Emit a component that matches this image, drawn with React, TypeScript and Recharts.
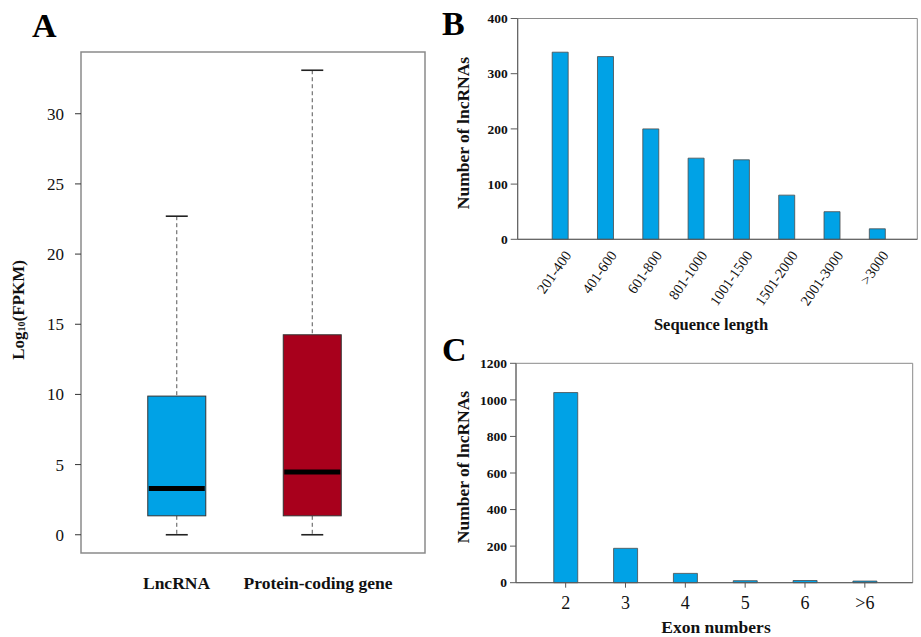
import React from "react";
import { ComposedChart, BarChart, Bar, XAxis, YAxis, ReferenceArea } from "recharts";

const SERIF = '"Liberation Serif", "Times New Roman", serif';
const BLUE = "#00a2e6";
const RED = "#a8001c";
const FRAME = "#8a8a8a";
const AXIS = "#5a5a5a";

// Panel A: log10(FPKM) box plots
const boxGroups = ["LncRNA", "Protein-coding gene"];
const boxMin = [0, 0];
const boxQ1 = [1.35, 1.35];
const boxMedian = [3.3, 4.47];
const boxQ3 = [9.88, 14.25];
const boxMax = [22.7, 33.1];
const boxColors = [BLUE, RED];
const fpkmTicks = [0, 5, 10, 15, 20, 25, 30];

// Panel B: sequence length distribution
const lengthBins = ["201-400", "401-600", "601-800", "801-1000", "1001-1500", "1501-2000", "2001-3000", ">3000"];
const lengthCounts = [339, 331, 200, 147, 144, 80, 50, 19];
const lengthTicks = [0, 100, 200, 300, 400];

// Panel C: exon number distribution
const exonBins = ["2", "3", "4", "5", "6", ">6"];
const exonCounts = [1040, 188, 51, 11, 12, 9];
const exonTicks = [0, 200, 400, 600, 800, 1000, 1200];

const boxData = boxGroups.map((g, i) => ({
  pos: i + 1, min: boxMin[i], q1: boxQ1[i], median: boxMedian[i], q3: boxQ3[i], max: boxMax[i], color: boxColors[i],
}));
const lengthData = lengthBins.map((_, i) => ({ pos: i, count: lengthCounts[i] }));
const exonData = exonBins.map((_, i) => ({ pos: i, count: exonCounts[i] }));

const A_X: [number, number] = [0.295, 2.834];
const A_Y: [number, number] = [-1.3, 34.4];
const B_X: [number, number] = [-0.93, 7.89];
const C_X: [number, number] = [-0.83, 5.8];

function BoxShape(props: any) {
  const { x, y, width, height, payload } = props;
  const top = Math.min(y, y + height);
  const h = Math.abs(height);
  const span = payload.max - payload.min;
  const py = (v: number) => top + ((payload.max - v) / span) * h;
  const cx = x + width / 2;
  const cap = 11;
  return (
    <g>
      <line x1={cx} x2={cx} y1={py(payload.max)} y2={py(payload.q3)} stroke="#555" strokeDasharray="4 3" />
      <line x1={cx} x2={cx} y1={py(payload.q1)} y2={py(payload.min)} stroke="#555" strokeDasharray="4 3" />
      <line x1={cx - cap} x2={cx + cap} y1={py(payload.max)} y2={py(payload.max)} stroke="#222" strokeWidth={1.6} />
      <line x1={cx - cap} x2={cx + cap} y1={py(payload.min)} y2={py(payload.min)} stroke="#222" strokeWidth={1.6} />
      <rect x={x} y={py(payload.q3)} width={width} height={py(payload.q1) - py(payload.q3)}
        fill={payload.color} stroke="#333" strokeWidth={1} />
      <line x1={x + 1} x2={x + width - 1} y1={py(payload.median)} y2={py(payload.median)} stroke="#000" strokeWidth={5} />
    </g>
  );
}

const makeTick = (size: number, weight: string, labels?: string[], shift?: number[]) => (props: any) => {
  const { x, y, payload, textAnchor, verticalAnchor } = props;
  const dy = verticalAnchor === "start" ? "0.71em" : verticalAnchor === "end" ? "-0.2em" : "0.35em";
  const text = labels ? labels[payload.value] ?? "" : payload.value;
  const dx = shift ? shift[payload.value] ?? 0 : 0;
  return (
    <text x={x + dx} y={y} textAnchor={textAnchor} dy={dy} fontFamily={SERIF} fontSize={size} fontWeight={weight} fill="#111">
      {text}
    </text>
  );
};

function SlantTick({ x, y, payload }: any) {
  const ax = x + 8;
  return (
    <text x={ax} y={y} transform={`rotate(-55, ${ax}, ${y})`} textAnchor="end" dy="0.35em"
      fontFamily={SERIF} fontSize={14.5} fill="#111">
      {lengthBins[payload.value]}
    </text>
  );
}

function Log10Label() {
  return (
    <text x={18} y={310} transform="rotate(-90, 18, 310)" textAnchor="middle" dominantBaseline="central"
      fontFamily={SERIF} fontWeight="bold" fontSize={17} fill="#111">
      Log<tspan fontSize={10} dy={3}>10</tspan><tspan dy={-3}>(FPKM)</tspan>
    </text>
  );
}

function CountLabel({ cy }: { cy: number }) {
  return (
    <text x={23} y={cy} transform={`rotate(-90, 23, ${cy})`} textAnchor="middle" dominantBaseline="central"
      fontFamily={SERIF} fontWeight="bold" fontSize={17.5} fill="#111">
      Number of lncRNAs
    </text>
  );
}

const letter = (ch: string, left: number, top: number) => (
  <div style={{ position: "absolute", left, top, fontWeight: "bold", fontSize: 34, lineHeight: "34px", color: "#000" }}>
    {ch}
  </div>
);

const xTitle = (text: string, cx: number, cy: number, size: number) => (
  <div style={{ position: "absolute", left: cx - 100, top: cy - size / 2, width: 200, textAlign: "center",
    fontWeight: "bold", fontSize: size, lineHeight: `${size}px`, color: "#111" }}>
    {text}
  </div>
);

export default function App() {
  return (
    <div style={{ position: "absolute", left: 0, top: 0, width: 921, height: 637, background: "#fff",
      overflow: "hidden", fontFamily: SERIF }}>
      {letter("A", 32, 9)}
      {letter("B", 442, 7)}
      {letter("C", 442, 333)}
      {xTitle("Sequence length", 711, 325, 16.5)}
      {xTitle("Exon numbers", 716, 628, 17.5)}

      <div style={{ position: "absolute", left: 0, top: 0 }}>
        <ComposedChart width={430} height={637} data={boxData} margin={{ top: 52, right: 5, bottom: 44, left: 21 }}>
          <XAxis dataKey="pos" type="number" domain={A_X} ticks={[1, 2]} height={40} allowDataOverflow
            axisLine={false} tickLine={false} tickSize={0} tickMargin={24}
            tick={makeTick(17.5, "bold", ["", ...boxGroups], [0, 0, 6])} />
          <YAxis type="number" domain={A_Y} ticks={fpkmTicks} width={60} allowDataOverflow
            axisLine={false} tickLine={{ stroke: "#333" }} tickSize={6} tickMargin={11}
            tick={makeTick(17, "normal")} label={<Log10Label />} />
          <ReferenceArea x1={A_X[0]} x2={A_X[1]} y1={A_Y[0]} y2={A_Y[1]} fill="none" fillOpacity={0}
            stroke={FRAME} strokeWidth={1.5} ifOverflow="visible" />
          <Bar dataKey={(d: any) => [d.min, d.max]} barSize={58} shape={<BoxShape />} isAnimationActive={false} />
        </ComposedChart>
      </div>

      <div style={{ position: "absolute", left: 440, top: 0 }}>
        <BarChart width={481} height={335} data={lengthData} margin={{ top: 18.5, right: 3.7, bottom: 25.7, left: 27.7 }}>
          <XAxis dataKey="pos" type="number" domain={B_X} ticks={[0, 1, 2, 3, 4, 5, 6, 7]} allowDataOverflow
            height={70} interval={0} axisLine={{ stroke: AXIS }} tickLine={false} tickSize={0} tickMargin={13}
            tick={<SlantTick />} />
          <YAxis domain={[0, 400]} ticks={lengthTicks} width={50} axisLine={{ stroke: AXIS }}
            tickLine={{ stroke: AXIS }} tickSize={7} tickMargin={3}
            tick={makeTick(13.5, "bold")} label={<CountLabel cy={133} />} />
          <ReferenceArea x1={B_X[0]} x2={B_X[1]} y1={0} y2={400} fill="none" fillOpacity={0}
            stroke={FRAME} strokeWidth={1} ifOverflow="visible" />
          <Bar dataKey="count" fill={BLUE} stroke="#4a4a4a" strokeWidth={0.8} barSize={16} isAnimationActive={false} />
        </BarChart>
      </div>

      <div style={{ position: "absolute", left: 440, top: 330 }}>
        <BarChart width={481} height={307} data={exonData} margin={{ top: 33.3, right: 8.3, bottom: 24.3, left: 26 }}>
          <XAxis dataKey="pos" type="number" domain={C_X} ticks={[0, 1, 2, 3, 4, 5]} allowDataOverflow
            height={30} interval={0} axisLine={{ stroke: AXIS }} tickLine={{ stroke: AXIS }} tickSize={5} tickMargin={9}
            tick={makeTick(18, "normal", exonBins)} />
          <YAxis domain={[0, 1200]} ticks={exonTicks} width={50} axisLine={{ stroke: AXIS }}
            tickLine={{ stroke: AXIS }} tickSize={6} tickMargin={3}
            tick={makeTick(13.5, "bold")} label={<CountLabel cy={137} />} />
          <ReferenceArea x1={C_X[0]} x2={C_X[1]} y1={0} y2={1200} fill="none" fillOpacity={0}
            stroke={FRAME} strokeWidth={1} ifOverflow="visible" />
          <Bar dataKey="count" fill={BLUE} stroke="#4a4a4a" strokeWidth={0.8} barSize={24} isAnimationActive={false} />
        </BarChart>
      </div>
    </div>
  );
}
